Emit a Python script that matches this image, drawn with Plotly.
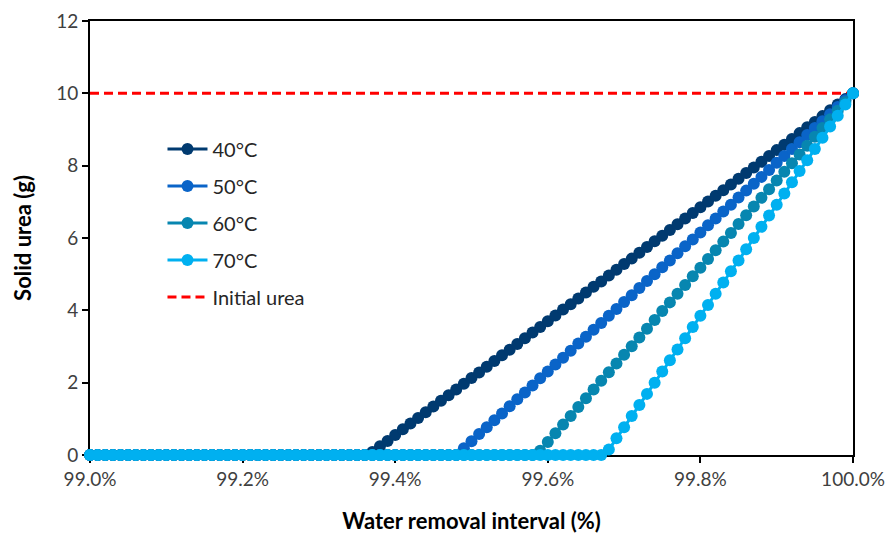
import plotly.graph_objects as go

# Water removal interval (%) — grid 99.00 .. 100.00, step 0.01
x_pct = [round(99.0 + 0.01 * i, 2) for i in range(101)]

solid_40C = [0.0] * 37 + [
    0.08, 0.24, 0.39, 0.55, 0.71, 0.87, 1.02, 1.18, 1.34, 1.50,
    1.65, 1.81, 1.97, 2.13, 2.28, 2.44, 2.60, 2.76, 2.91, 3.07,
    3.23, 3.39, 3.54, 3.70, 3.86, 4.02, 4.17, 4.33, 4.49, 4.65,
    4.80, 4.96, 5.12, 5.28, 5.43, 5.59, 5.75, 5.91, 6.06, 6.22,
    6.38, 6.54, 6.69, 6.85, 7.01, 7.17, 7.32, 7.48, 7.64, 7.80,
    7.95, 8.11, 8.27, 8.43, 8.58, 8.74, 8.90, 9.06, 9.21, 9.37,
    9.53, 9.69, 9.84, 10.00]

solid_50C = [0.0] * 49 + [
    0.19, 0.38, 0.58, 0.77, 0.96, 1.15, 1.35, 1.54, 1.73, 1.92,
    2.12, 2.31, 2.50, 2.69, 2.88, 3.08, 3.27, 3.46, 3.65, 3.85,
    4.04, 4.23, 4.42, 4.62, 4.81, 5.00, 5.19, 5.38, 5.58, 5.77,
    5.96, 6.15, 6.35, 6.54, 6.73, 6.92, 7.12, 7.31, 7.50, 7.69,
    7.88, 8.08, 8.27, 8.46, 8.65, 8.85, 9.04, 9.23, 9.42, 9.62,
    9.81, 10.00]

solid_60C = [0.0] * 59 + [
    0.12, 0.36, 0.60, 0.84, 1.08, 1.33, 1.57, 1.81, 2.05, 2.29,
    2.53, 2.77, 3.01, 3.25, 3.49, 3.73, 3.98, 4.22, 4.46, 4.70,
    4.94, 5.18, 5.42, 5.66, 5.90, 6.14, 6.39, 6.63, 6.87, 7.11,
    7.35, 7.59, 7.83, 8.07, 8.31, 8.55, 8.80, 9.04, 9.28, 9.52,
    9.76, 10.00]

solid_70C = [0.0] * 68 + [
    0.15, 0.46, 0.77, 1.08, 1.38, 1.69, 2.00, 2.31, 2.62, 2.92,
    3.23, 3.54, 3.85, 4.15, 4.46, 4.77, 5.08, 5.38, 5.69, 6.00,
    6.31, 6.62, 6.92, 7.23, 7.54, 7.85, 8.15, 8.46, 8.77, 9.08,
    9.38, 9.69, 10.00]

initial_x = [99.0, 100.0]
initial_urea = [10, 10]

x_tick_vals = [99.0, 99.2, 99.4, 99.6, 99.8, 100.0]
x_tick_text = ["99.0%", "99.2%", "99.4%", "99.6%", "99.8%", "100.0%"]

series_names = ["40°C", "50°C", "60°C", "70°C"]
series_values = [solid_40C, solid_50C, solid_60C, solid_70C]
series_colors = ["#003A70", "#0A64C8", "#0786B0", "#00B0F0"]

FONT = "Lato, 'Open Sans', sans-serif"

fig = go.Figure()

fig.add_trace(go.Scatter(
    x=initial_x, y=initial_urea, mode="lines", name="Initial urea",
    line=dict(color="#FF0000", width=3, dash="9px,5px"),
    legendrank=5, legendgroup="g5", cliponaxis=False,
))

for i, (nm, vals, col) in enumerate(zip(series_names, series_values, series_colors)):
    fig.add_trace(go.Scatter(
        x=x_pct, y=vals, mode="lines+markers", name=nm,
        line=dict(color=col, width=3),
        marker=dict(color=col, size=12, line=dict(width=0)),
        legendrank=i + 1, legendgroup=f"g{i}", cliponaxis=False,
    ))

fig.update_layout(
    width=892, height=538,
    margin=dict(l=90, r=39, t=21, b=83),
    paper_bgcolor="white", plot_bgcolor="white",
    font=dict(family=FONT, size=19, color="#404040"),
    showlegend=True,
    legend=dict(
        x=0.095, y=0.75, xanchor="left", yanchor="top",
        bgcolor="rgba(0,0,0,0)", font=dict(family=FONT, size=20, color="#262626"),
        tracegroupgap=8, itemwidth=40,
    ),
    xaxis=dict(
        range=[99.0, 100.0], tickmode="array",
        tickvals=x_tick_vals, ticktext=x_tick_text, automargin=False,
        showline=True, linecolor="black", linewidth=2, mirror=True,
        ticks="outside", ticklen=6, tickcolor="black", tickwidth=2,
        showgrid=False, zeroline=False, layer="below traces",
        title=dict(text="<b>Water removal interval (%)</b>",
                   font=dict(family=FONT, size=22, color="black"), standoff=25),
    ),
    yaxis=dict(
        range=[0, 12], dtick=2, automargin=False,
        showline=True, linecolor="black", linewidth=2, mirror=True,
        ticks="outside", ticklen=6, tickcolor="black", tickwidth=2,
        showgrid=False, zeroline=False, layer="below traces",
        title=dict(text="<b>Solid urea (g)</b>",
                   font=dict(family=FONT, size=22, color="black"), standoff=18),
    ),
)

fig.write_html("out.html")
